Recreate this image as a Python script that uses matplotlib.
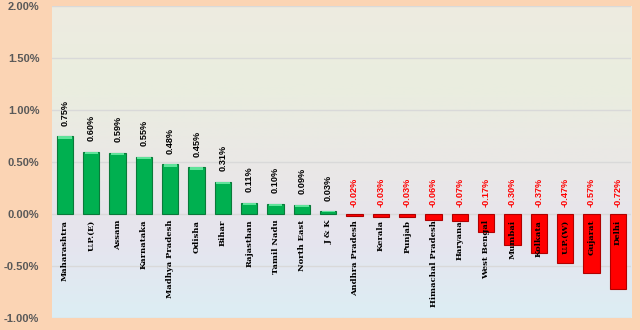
import numpy as np
import matplotlib.pyplot as plt
from matplotlib.colors import LinearSegmentedColormap

states = ["Maharashtra", "U.P.(E)", "Assam", "Karnataka", "Madhya Pradesh", "Odisha",
          "Bihar", "Rajasthan", "Tamil Nadu", "North East", "J & K", "Andhra Pradesh",
          "Kerala", "Punjab", "Himachal Pradesh", "Haryana", "West Bengal", "Mumbai",
          "Kolkata", "U.P.(W)", "Gujarat", "Delhi"]
change = [0.75, 0.60, 0.59, 0.55, 0.48, 0.45, 0.31, 0.11, 0.10, 0.09, 0.03, -0.02,
          -0.03, -0.03, -0.06, -0.07, -0.17, -0.30, -0.37, -0.47, -0.57, -0.72]
y_ticks = [-1.0, -0.5, 0.0, 0.5, 1.0, 1.5, 2.0]

fig = plt.figure(figsize=(6.4, 3.3), dpi=100, facecolor="#FBD4B4")
ax = fig.add_axes([0.081, 0.036, 0.905, 0.946])

# gradient background
cmap = LinearSegmentedColormap.from_list(
    "bg", ["#DCEEF4", "#E6E4EE", "#EAE8E6", "#EAEEDF", "#EEEBE1"])
grad = np.linspace(0, 1, 256).reshape(-1, 1)
ax.imshow(grad, aspect="auto", cmap=cmap, origin="lower",
          extent=[-0.5, len(states) - 0.5, -1.0, 2.0], zorder=0)

x = np.arange(len(states))
colors = ["#00B050" if v >= 0 else "#FF0000" for v in change]
edges = ["#0A7A3A" if v >= 0 else "#B00000" for v in change]
ax.bar(x, change, width=0.62, color=colors, edgecolor=edges, linewidth=0.8, zorder=3)
# highlight on top of green bars
for xi, v in zip(x, change):
    if v > 0:
        h = min(0.025, v * 0.5)
        ax.bar(xi, h, bottom=v - h, width=0.5, color="#5FE39A", linewidth=0, zorder=4)

for xi, v, name in zip(x, change, states):
    base = v + 0.1 if v > 0 else 0.065
    ax.text(xi, base, f"{v:.2f}%", rotation=90, ha="center", va="bottom",
            fontsize=6.6, family="Liberation Sans", fontweight="bold",
            color="black" if v >= 0 else "red", zorder=5)
    ax.text(xi, -0.055, name, rotation=90, ha="center", va="top", fontsize=6,
            family="DejaVu Serif", fontweight="bold", color="black", zorder=5)

ax.set_xlim(-0.5, len(states) - 0.5)
ax.set_ylim(-1.0, 2.0)
ax.set_yticks(y_ticks)
ax.set_yticklabels([f"{t:.2f}%" for t in y_ticks], fontsize=8, fontweight="bold",
                   family="Liberation Sans", color="#595959")
ax.set_xticks([])
ax.tick_params(axis="y", length=0, pad=9)
ax.grid(axis="y", color="#D9D9D9", linewidth=1, zorder=1)
for s in ax.spines.values():
    s.set_visible(False)

fig.savefig("out.png", dpi=100, facecolor=fig.get_facecolor())
